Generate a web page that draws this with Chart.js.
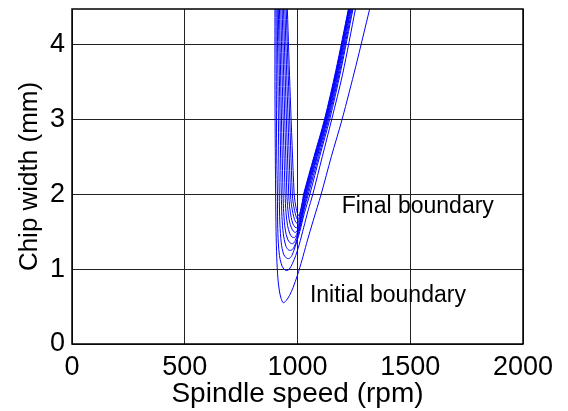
<!DOCTYPE html>
<html>
<head>
<meta charset="utf-8">
<script src="https://cdn.jsdelivr.net/npm/chart.js@4.4.1/dist/chart.umd.min.js"></script>
<style>
  html, body { margin: 0; padding: 0; background: #fff; }
  #wrap { width: 568px; height: 411px; }
</style>
</head>
<body>
<div id="wrap"><canvas id="lobeChart"></canvas></div>
<script>
// Axis ticks
const speedTicks = [0, 500, 1000, 1500, 2000];
const widthTicks = [0, 1, 2, 3, 4];

// Stability boundaries, [spindle speed (rpm), chip width (mm)], outer (initial) to inner (final)
const boundary0 = [[900,4.47],[900,3.5],[901,2.8],[903,2.0],[905,1.5],[908,1.15],[913,0.88],[919,0.72],[927,0.61],[937,0.55],[950,0.58],[965,0.65],[980,0.75],[1000,0.92],[1020,1.12],[1040,1.34],[1070,1.65],[1105,2.0],[1150,2.5],[1198,3.0],[1258,3.7],[1320,4.47]];
const boundary1 = [[905,4.47],[906,3.5],[908,2.5],[911,2.0],[912,1.6],[915,1.35],[920,1.18],[928,1.07],[939,1.0],[952,0.98],[964,1.0],[977,1.07],[992,1.18],[1008,1.33],[1027,1.55],[1047,1.78],[1068,2.0],[1110,2.5],[1152,3.0],[1200,3.6],[1257,4.47]];
const boundary2 = [[910,4.47],[914,3.3],[919,2.0],[922,1.6],[928,1.35],[938,1.2],[950,1.15],[962,1.14],[975,1.18],[990,1.3],[1010,1.5],[1030,1.74],[1055,2.0],[1098,2.5],[1143,3.0],[1192,3.65],[1246,4.47]];
const boundary3 = [[915,4.47],[921,3.3],[928,2.0],[931,1.7],[937,1.47],[947,1.32],[958,1.26],[972,1.25],[984,1.29],[998,1.4],[1015,1.6],[1030,1.8],[1048,2.0],[1093,2.5],[1138,3.0],[1188,3.65],[1242,4.47]];
const boundary4 = [[920,4.47],[927,3.3],[936,2.0],[939,1.75],[946,1.52],[956,1.4],[967,1.35],[980,1.34],[990,1.38],[1002,1.48],[1016,1.65],[1029,1.82],[1043,2.0],[1088,2.5],[1134,3.0],[1184,3.65],[1238,4.47]];
const boundary5 = [[926,4.47],[934,3.3],[945,2.0],[949,1.75],[956,1.58],[965,1.48],[975,1.43],[987,1.42],[996,1.46],[1006,1.55],[1018,1.7],[1028,1.85],[1039,2.0],[1085,2.5],[1131,3.0],[1181,3.65],[1235,4.47]];
const boundary6 = [[932,4.47],[941,3.3],[953,2.0],[957,1.8],[964,1.64],[973,1.55],[983,1.5],[993,1.49],[1001,1.53],[1010,1.62],[1020,1.75],[1028,1.88],[1036,2.0],[1082,2.5],[1128,3.0],[1178,3.65],[1232,4.47]];
const boundary7 = [[938,4.47],[948,3.3],[961,2.0],[965,1.83],[972,1.69],[980,1.6],[989,1.56],[997,1.55],[1004,1.59],[1012,1.67],[1020,1.78],[1027,1.9],[1033,2.0],[1079,2.5],[1126,3.0],[1176,3.65],[1230,4.47]];
const boundary8 = [[944,4.47],[955,3.3],[969,2.0],[973,1.86],[980,1.74],[987,1.66],[994,1.62],[1000,1.61],[1006,1.65],[1013,1.73],[1020,1.83],[1026,1.93],[1031,2.0],[1077,2.5],[1124,3.0],[1174,3.65],[1228,4.47]];
const boundary9 = [[950,4.47],[962,3.3],[977,2.0],[981,1.88],[987,1.78],[993,1.71],[998,1.67],[1003,1.66],[1008,1.7],[1014,1.77],[1020,1.86],[1025,1.94],[1029,2.0],[1075,2.5],[1122,3.0],[1172,3.65],[1227,4.47]];
const boundary10 = [[955,4.47],[968,3.3],[985,2.0],[989,1.9],[994,1.81],[999,1.75],[1003,1.72],[1006,1.71],[1010,1.74],[1015,1.8],[1020,1.87],[1024,1.94],[1027,2.0],[1073,2.5],[1120,3.0],[1170,3.65],[1226,4.47]];

const boundaries = [boundary0, boundary1, boundary2, boundary3, boundary4, boundary5,
                    boundary6, boundary7, boundary8, boundary9, boundary10];

const FONT = "'Liberation Sans', Arial, sans-serif";

// Box round the axes plus the two text labels
const framePlugin = {
    id: 'frame',
    afterDraw(chart) {
        const { ctx, chartArea: a, scales } = chart;
        ctx.save();
        ctx.strokeStyle = '#000';
        ctx.lineWidth = 1.5;
        ctx.strokeRect(a.left, a.top, a.right - a.left, a.bottom - a.top);

        ctx.fillStyle = '#000';
        ctx.font = '23px ' + FONT;
        ctx.textAlign = 'left';
        ctx.textBaseline = 'alphabetic';
        ctx.fillText('Final boundary', scales.x.getPixelForValue(1196), scales.y.getPixelForValue(1.75));
        ctx.fillText('Initial boundary', scales.x.getPixelForValue(1055), scales.y.getPixelForValue(0.56));
        ctx.restore();
    }
};

const ctx = document.getElementById('lobeChart').getContext('2d');
new Chart(ctx, {
    type: 'scatter',
    data: {
        datasets: boundaries.map((pts, i) => ({
            label: 'boundary ' + i,
            data: pts.map(p => ({ x: p[0], y: p[1] })),
            showLine: true,
            borderColor: '#0000ff',
            borderWidth: 1,
            pointRadius: 0,
            tension: 0.3,
            fill: false
        }))
    },
    options: {
        responsive: true,
        maintainAspectRatio: false,
        animation: false,
        layout: {
            padding: { left: 0, right: 45, top: 9, bottom: 0 }
        },
        plugins: {
            legend: { display: false },
            tooltip: { enabled: false }
        },
        scales: {
            x: {
                type: 'linear',
                min: 0,
                max: 2000,
                afterBuildTicks: scale => { scale.ticks = speedTicks.map(v => ({ value: v })); },
                afterFit: scale => {
                    scale.height = 67;
                    scale.paddingLeft = 0;
                    scale.paddingRight = 0;
                },
                grid: { color: '#222', lineWidth: 1, drawTicks: false },
                border: { display: false },
                ticks: {
                    color: '#000',
                    padding: 7,
                    maxRotation: 0,
                    font: { size: 27, family: FONT },
                    callback: value => String(value)
                },
                title: {
                    display: true,
                    text: 'Spindle speed (rpm)',
                    color: '#000',
                    padding: { top: 0, bottom: 0 },
                    font: { size: 28, family: FONT }
                }
            },
            y: {
                type: 'linear',
                min: 0,
                max: 4.47,
                afterBuildTicks: scale => { scale.ticks = widthTicks.map(v => ({ value: v })); },
                afterFit: scale => {
                    scale.width = 72;
                    scale.paddingTop = 0;
                    scale.paddingBottom = 0;
                },
                grid: { color: '#222', lineWidth: 1, drawTicks: false },
                border: { display: false },
                ticks: {
                    color: '#000',
                    padding: 7,
                    font: { size: 27, family: FONT },
                    callback: value => String(value)
                },
                title: {
                    display: true,
                    text: 'Chip width (mm)',
                    color: '#000',
                    padding: { top: 14, bottom: 0 },
                    font: { size: 26, family: FONT }
                }
            }
        }
    },
    plugins: [framePlugin]
});
</script>
</body>
</html>
